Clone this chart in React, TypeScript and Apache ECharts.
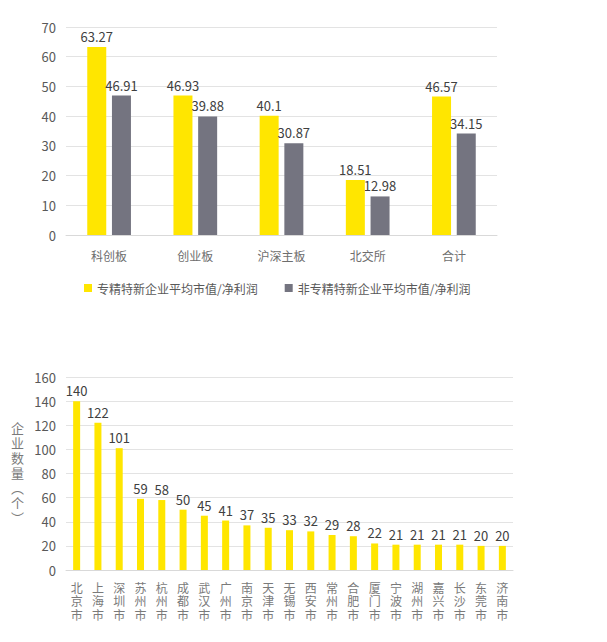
import React, { useEffect, useRef } from "react";
import * as echarts from "echarts";

const boards = ["科创板", "创业板", "沪深主板", "北交所", "合计"];
const specialPE = [63.27, 46.93, 40.1, 18.51, 46.57];
const otherPE = [46.91, 39.88, 30.87, 12.98, 34.15];
const seriesNames = ["专精特新企业平均市值/净利润", "非专精特新企业平均市值/净利润"];

const cities = ["北京市", "上海市", "深圳市", "苏州市", "杭州市", "成都市", "武汉市", "广州市", "南京市", "天津市", "无锡市", "西安市", "常州市", "合肥市", "厦门市", "宁波市", "湖州市", "嘉兴市", "长沙市", "东莞市", "济南市"];
const cityCounts = [140, 122, 101, 59, 58, 50, 45, 41, 37, 35, 33, 32, 29, 28, 22, 21, 21, 21, 21, 20, 20];
const countAxisName = "企业数量︵个︶";

const YELLOW = "#FFE600";
const GREY = "#747480";
const FONT = "'Noto Sans CJK SC', 'Noto Sans', sans-serif";
const VFONT = "'Liberation Sans', 'Noto Sans CJK SC', sans-serif";

export default function App() {
  const ref = useRef<HTMLDivElement>(null);
  useEffect(() => {
    const chart = echarts.init(ref.current!, null, { renderer: "svg" });
    const axisLabel = { color: "#595959", fontSize: 13, fontFamily: FONT };
    const valueLabel = { show: true, position: "top", color: "#404040", fontSize: 13, fontFamily: FONT, distance: 4 };
    chart.setOption({
      animation: false,
      backgroundColor: "#ffffff",
      textStyle: { fontFamily: FONT },
      legend: {
        data: seriesNames,
        left: 84,
        top: 282,
        padding: 0,
        itemWidth: 8,
        itemHeight: 8,
        itemGap: 27,
        icon: "rect",
        textStyle: { color: "#595959", fontSize: 12, fontFamily: FONT },
      },
      grid: [
        { left: 66, right: 110, top: 27, height: 208 },
        { left: 66, right: 94, top: 377, height: 193 },
      ],
      xAxis: [
        {
          gridIndex: 0,
          type: "category",
          data: boards,
          axisLine: { lineStyle: { color: "#d9d9d9" } },
          axisTick: { show: false },
          axisLabel: { color: "#6e6e6e", fontSize: 12, fontFamily: FONT, margin: 14 },
        },
        {
          gridIndex: 1,
          type: "category",
          data: cities,
          axisLine: { lineStyle: { color: "#d9d9d9" } },
          axisTick: { show: false },
          axisLabel: {
            color: "#7a7a7a",
            fontSize: 12,
            fontFamily: VFONT,
            margin: 12,
            interval: 0,
            lineHeight: 13.5,
            formatter: (v: string) => v.split("").join("\n"),
          },
        },
      ],
      yAxis: [
        {
          gridIndex: 0,
          type: "value",
          min: 0,
          max: 70,
          interval: 10,
          axisLine: { show: false },
          axisTick: { show: false },
          splitLine: { lineStyle: { color: "#e3e3e3" } },
          axisLabel: { ...axisLabel, margin: 10 },
        },
        {
          gridIndex: 1,
          type: "value",
          min: 0,
          max: 160,
          interval: 20,
          axisLine: { show: false },
          axisTick: { show: false },
          splitLine: { lineStyle: { color: "#e3e3e3" } },
          axisLabel: { ...axisLabel, margin: 10 },
          name: countAxisName.split("").join("\n"),
          nameLocation: "middle",
          nameRotate: 0,
          nameGap: 42,
          nameTextStyle: { color: "#7a7a7a", fontSize: 13, fontFamily: VFONT, lineHeight: 15 },
        },
      ],
      series: [
        {
          name: seriesNames[0],
          type: "bar",
          xAxisIndex: 0,
          yAxisIndex: 0,
          data: specialPE,
          barWidth: 19,
          barGap: "30%",
          itemStyle: { color: YELLOW },
          label: valueLabel,
        },
        {
          name: seriesNames[1],
          type: "bar",
          xAxisIndex: 0,
          yAxisIndex: 0,
          data: otherPE,
          barWidth: 19,
          barGap: "30%",
          itemStyle: { color: GREY },
          label: valueLabel,
        },
        {
          name: "企业数量",
          type: "bar",
          xAxisIndex: 1,
          yAxisIndex: 1,
          data: cityCounts,
          barWidth: 7,
          itemStyle: { color: YELLOW },
          label: valueLabel,
        },
      ],
    });
    return () => chart.dispose();
  }, []);
  return (
    <div
      ref={ref}
      style={{ position: "fixed", left: 0, top: 0, width: 607, height: 642, background: "#fff" }}
    />
  );
}
